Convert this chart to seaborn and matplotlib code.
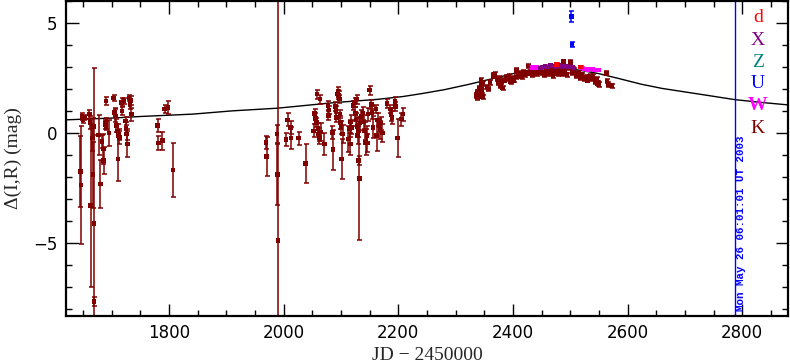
import numpy as np
import pandas as pd
import matplotlib
matplotlib.use("Agg")
import matplotlib.pyplot as plt
import seaborn as sns
from matplotlib.ticker import MultipleLocator

# model curve
curve_jd = [1620, 1700, 1748, 1841, 1911, 1989, 2091, 2163, 2208, 2240, 2280, 2324,
            2367, 2400, 2426, 2450, 2467, 2475, 2485, 2502, 2525, 2550, 2583, 2624,
            2660, 2700, 2740, 2787, 2830, 2880]
curve_mag = [0.60, 0.68, 0.75, 0.86, 1.01, 1.13, 1.39, 1.53, 1.66, 1.79, 1.97, 2.22,
             2.49, 2.70, 2.85, 2.94, 2.97, 2.975, 2.96, 2.91, 2.82, 2.70, 2.49, 2.22,
             2.03, 1.87, 1.71, 1.52, 1.40, 1.28]

# K band (dark red) points: jd, mag, err
k_jd = [1645, 1646, 1648, 1650, 1652, 1661, 1662, 1663, 1666, 1667, 1668, 1669, 1669,
        1677, 1680, 1683, 1685, 1686, 1688, 1689, 1690, 1690, 1695, 1703, 1705, 1706,
        1708, 1710, 1711, 1712, 1713, 1717, 1718, 1721, 1724, 1725, 1726, 1727, 1730,
        1732, 1733, 1734, 1780, 1781, 1788, 1792, 1798, 1807,
        1969, 1970, 1988, 1989, 1990, 2004, 2007, 2012, 2013, 2026, 2038, 2052, 2054,
        2055, 2057, 2058, 2060, 2061, 2062, 2063, 2065, 2071, 2077, 2078, 2079, 2085,
        2086, 2090, 2091, 2092, 2094, 2095, 2096, 2097, 2098, 2099, 2100, 2101, 2103,
        2113, 2115, 2116, 2117, 2118, 2121, 2124, 2125, 2126, 2127, 2128, 2129, 2130,
        2131, 2132, 2133, 2135, 2138, 2140, 2141, 2143, 2145, 2146, 2147, 2150, 2153,
        2154, 2156, 2161, 2162, 2164, 2166, 2168, 2170, 2172, 2180, 2186, 2187, 2189,
        2194, 2195, 2199, 2205, 2208,
        2336, 2337, 2338, 2339, 2341, 2344, 2345, 2346, 2347, 2348, 2355, 2357, 2360,
        2365, 2368, 2372, 2374, 2376, 2378, 2380, 2382, 2385, 2388, 2390, 2393, 2396,
        2399, 2402, 2405, 2406, 2409, 2412, 2415, 2418, 2421, 2424, 2427, 2430, 2434,
        2438, 2442, 2446, 2450, 2454, 2458, 2462, 2466, 2470, 2474, 2478, 2482, 2486,
        2488, 2490, 2494, 2498, 2500, 2503, 2506, 2510, 2514, 2517, 2520, 2524, 2527,
        2530, 2534, 2537, 2540, 2543, 2546, 2548, 2550, 2563, 2564, 2566, 2572, 2574,
        2576]
k_mag = [-1.74, -2.36, 0.75, 0.62, 0.70, 0.86, 0.48, -3.29, -0.23, -1.89, 0.29, -4.12, -7.67,
         -0.09, -2.31, -0.38, -0.73, -1.25, 0.40, 0.45, 0.33, 1.46, 0.00, 1.59, 0.93, 0.78,
         0.33, 0.10, -1.18, -0.05, -0.20, 1.39, 1.01, 1.46, 0.55, 0.20, -0.05, -0.50, 1.60,
         1.30, 1.48, 0.86, 0.33, -0.45, -0.35, 1.09, 1.16, -1.68,
         -0.42, -1.07, -0.05, -1.88, -4.88, -0.30, 0.60, 0.26, -0.23, -0.23, -1.38, 0.10, 0.90,
         0.65, 0.48, 1.77, 0.20, -0.05, -0.20, 1.54, 0.05, -0.50, 1.24, 0.80, 1.05, 0.03,
         -0.76, 1.20, 1.00, 0.71, 1.77, 1.90, 1.70, 1.55, 0.87, 0.48, 0.25, -1.18, -0.05,
         -0.27, 0.20, -0.50, 0.50, 0.25, 1.24, 1.39, 0.90, 0.60, 1.54, 0.30, -0.10, 0.10,
         -1.25, -2.08, 0.45, 0.75, 0.90, 0.50, 0.10, -0.42, -0.10, -0.45, 0.86, 1.95, 1.31,
         0.93, 0.26, 1.09, -0.12, 0.60, 0.35, 0.15, 0.45, 0.00, 1.34, 1.09, 0.85, 0.70,
         1.43, 1.20, -0.23, 0.63, 0.86,
         1.70, 1.85, 1.62, 1.84, 2.05, 2.40, 2.15, 1.90, 1.65, 2.25, 2.10, 2.00, 2.30,
         2.62, 2.67, 2.45, 2.30, 2.50, 2.15, 2.35, 2.05, 2.40, 2.55, 2.45, 2.60, 2.35,
         2.50, 2.40, 2.55, 2.85, 2.60, 2.70, 2.55, 2.75, 2.65, 2.72, 3.05, 2.75, 2.65,
         2.80, 2.70, 2.85, 2.75, 2.65, 2.80, 2.70, 2.85, 2.62, 2.80, 2.70, 2.90, 2.70,
         3.24, 2.80, 2.65, 2.95, 3.20, 2.75, 2.85, 2.60, 2.70, 2.50, 2.65, 2.45, 2.55,
         2.40, 2.60, 2.45, 2.60, 2.35, 2.45, 2.25, 2.20, 2.72, 2.37, 2.20, 2.15, 2.00,
         1.85]
k_err = [1.6, 2.7, 0.15, 0.15, 0.12, 0.2, 0.3, 3.7, 0.6, 1.5, 0.4, 7.1, 0.2,
         0.9, 1.1, 0.3, 0.7, 0.6, 0.2, 0.25, 0.2, 0.2, 0.6, 0.15, 0.2, 0.3,
         0.3, 0.3, 1.0, 0.25, 0.3, 0.2, 0.2, 0.15, 0.2, 0.3, 0.25, 0.6, 0.15,
         0.2, 0.2, 0.3, 0.3, 0.3, 0.4, 0.2, 0.3, 1.25,
         0.3, 0.9, 0.4, 1.4, 12.0, 0.3, 0.3, 0.3, 0.5, 0.3, 0.9, 0.3, 0.2,
         0.25, 0.2, 0.2, 0.25, 0.3, 0.3, 0.2, 0.4, 0.5, 0.2, 0.2, 0.2, 0.3,
         0.9, 0.2, 0.25, 0.2, 0.2, 0.2, 0.2, 0.2, 0.2, 0.3, 0.3, 0.9, 0.4,
         0.6, 0.4, 0.5, 0.3, 0.3, 0.2, 0.2, 0.3, 0.3, 0.2, 0.4, 0.4, 0.3,
         0.2, 2.8, 0.3, 0.3, 0.3, 0.3, 0.4, 0.6, 0.4, 0.4, 0.3, 0.2, 0.2,
         0.3, 0.5, 0.2, 0.7, 0.3, 0.3, 0.4, 0.3, 0.4, 0.2, 0.2, 0.3, 0.3,
         0.2, 0.2, 0.85, 0.3, 0.3] + [0.1] * 77

# other bands
w_jd = [2433, 2437, 2441, 2520, 2525, 2530, 2535, 2540, 2545, 2549]
w_mag = [2.98, 2.97, 2.99, 2.95, 2.92, 2.90, 2.92, 2.88, 2.87, 2.86]
x_jd = [2447, 2452, 2456, 2460, 2465, 2470, 2475, 2480, 2485, 2490, 2495, 2500, 2505]
x_mag = [2.95, 3.00, 3.05, 3.00, 3.08, 3.05, 3.02, 3.06, 3.00, 3.04, 3.02, 3.00, 2.97]
d_jd = [2476, 2518]
d_mag = [3.13, 3.00]
u_jd = [2502, 2503]
u_mag = [5.31, 4.03]
u_err = [0.25, 0.12]

band_colors = {'d': '#ff0000', 'X': '#800080', 'Z': '#008080',
               'U': '#0000ff', 'W': '#ff00ff', 'K': '#800000'}

rows = []
for b, jds, mags, errs in [('K', k_jd, k_mag, k_err),
                           ('W', w_jd, w_mag, [0.05] * len(w_jd)),
                           ('X', x_jd, x_mag, [0.05] * len(x_jd)),
                           ('d', d_jd, d_mag, [0.05] * len(d_jd)),
                           ('U', u_jd, u_mag, u_err)]:
    for j, m, e in zip(jds, mags, errs):
        rows.append({'jd': j, 'mag': m, 'err': e, 'band': b})
df = pd.DataFrame(rows)
model = pd.DataFrame({'jd': curve_jd, 'mag': curve_mag})

sns.set_style("ticks")
plt.rcParams['font.family'] = ['DejaVu Sans']

fig = plt.figure(figsize=(7.9, 3.62), dpi=100)
ax = fig.add_axes([0.0835, 0.127, 0.914, 0.870])

sns.lineplot(ax=ax, data=model, x='jd', y='mag', color='black', lw=1.0)

for b in ['K', 'W', 'X', 'd', 'U']:
    sub = df[df['band'] == b]
    ax.errorbar(sub['jd'], sub['mag'], yerr=sub['err'], fmt='none',
                ecolor=band_colors[b], elinewidth=1.1, capsize=1.8, capthick=1.1)
sns.scatterplot(ax=ax, data=df, x='jd', y='mag', hue='band', palette=band_colors,
                marker='s', s=11, edgecolor='none', legend=False, zorder=3)

# date marker
ax.axvline(2787, color='#0000ff', lw=1.0)
ax.text(2789, 0.016, 'Mon May 26 06:01:01 UT 2003', transform=ax.get_xaxis_transform(),
        rotation=90, ha='left', va='bottom', color='#0000ff',
        family='Liberation Mono', fontsize=7.8, fontweight='bold')

# band letters
letter_y = [0.949, 0.876, 0.806, 0.737, 0.667, 0.597]
for (b, c), yy in zip(band_colors.items(), letter_y):
    ax.text(0.958, yy, b, transform=ax.transAxes, color=c, ha='center', va='center',
            family='Liberation Serif', fontsize=14,
            fontweight='bold' if b == 'W' else 'normal')

ax.set_xlim(1620, 2880)
ax.set_ylim(-8.32, 6.0)
ax.xaxis.set_major_locator(MultipleLocator(200))
ax.xaxis.set_minor_locator(MultipleLocator(50))
ax.yaxis.set_major_locator(MultipleLocator(5))
ax.yaxis.set_minor_locator(MultipleLocator(1))
ax.tick_params(which='both', direction='in', top=True, right=True, color='black',
               labelsize=12, labelcolor='black')
ax.tick_params(which='major', length=9, width=1.0, pad=6)
ax.tick_params(which='minor', length=4.5, width=1.0)
for s in ax.spines.values():
    s.set_linewidth(1.6)
    s.set_color('black')

ax.set_xlabel('JD − 2450000', family='Liberation Serif', fontsize=14, labelpad=3)
ax.set_ylabel('Δ(I,R) (mag)', family='Liberation Serif', fontsize=14, labelpad=8)

fig.savefig('out.png', dpi=100)
